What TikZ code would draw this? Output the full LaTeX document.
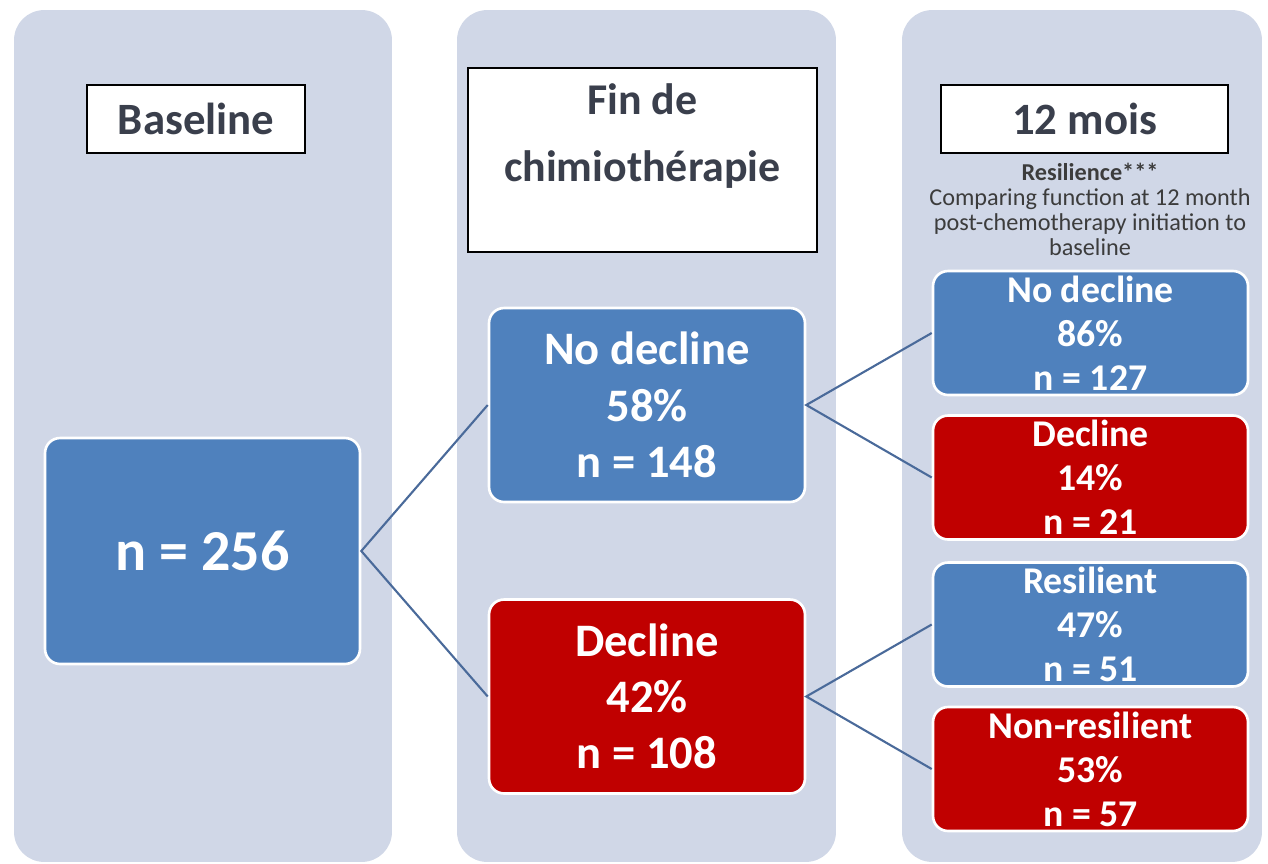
\documentclass[tikz,border=0pt]{standalone}
\usepackage{fontspec}
\setmainfont{Carlito}
\definecolor{panelc}{HTML}{D0D7E7}
\definecolor{boxblue}{HTML}{4F81BD}
\definecolor{boxred}{HTML}{C00000}
\definecolor{linkc}{HTML}{4A6A9A}
\definecolor{hdrtext}{HTML}{3A3F4C}
\definecolor{smalltext}{HTML}{3C3C3C}
\begin{document}
\begin{tikzpicture}[x=0.02cm,y=-0.02cm,
  panel/.style={fill=panelc, draw=none, rounded corners=0.6cm, inner sep=0pt},
  hdr/.style={draw=black, line width=0.8pt, fill=white, text=hdrtext, inner sep=0pt,
    font=\bfseries\fontsize{25.5}{29}\selectfont},
  colbox/.style={rounded corners=0.3cm, draw=white, line width=1.5pt, text=white,
    align=center, inner sep=0pt},
  bigbox/.style={colbox, minimum width=6.32cm, minimum height=3.88cm,
    font=\bfseries\fontsize{26.5}{32}\selectfont},
  smallbox/.style={colbox, minimum width=6.3cm, minimum height=2.48cm,
    font=\bfseries\fontsize{21.5}{25}\selectfont},
  bluef/.style={fill=boxblue},
  redf/.style={fill=boxred},
  link/.style={draw=linkc, line width=1.2pt}]
\useasboundingbox (0,0) rectangle (1268,863);

% panels
\node[panel, minimum width=7.56cm, minimum height=17.04cm] (p1) at (203,436) {};
\node[panel, minimum width=7.58cm, minimum height=17.04cm] (p2) at (646.5,436) {};
\node[panel, minimum width=7.2cm, minimum height=17.04cm] (p3) at (1082,436) {};

% headers
\node[hdr, minimum width=4.36cm, minimum height=1.36cm] (h1) at (196,119) {Baseline};
\node[hdr, minimum width=6.98cm, minimum height=3.68cm] (h2) at (642.5,160) {};
\node[text=hdrtext, align=center, font=\bfseries\fontsize{25}{38.5}\selectfont] (h2t) at (642.5,136) {Fin de\\chimiothérapie};
\node[hdr, minimum width=5.74cm, minimum height=1.36cm] (h3) at (1084.5,119) {12 mois};

\node[text=smalltext, align=center, font=\fontsize{13.8}{14.2}\selectfont] (res) at (1090,209)
  {\textbf{Resilience***}\\Comparing function at 12 month\\post-chemotherapy initiation to\\baseline};

% boxes
\node[colbox, bluef, minimum width=6.3cm, minimum height=4.52cm,
  font=\bfseries\fontsize{33}{38}\selectfont] (n256) at (202.5,551) {n = 256};

\node[bigbox, bluef] (nd) at (647,405) {No decline\\58\%\\n = 148};
\node[bigbox, redf] (dc) at (647,696.5) {Decline\\42\%\\n = 108};

\node[smallbox, bluef] (r1) at (1090.5,333) {No decline\\86\%\\n = 127};
\node[smallbox, redf] (r2) at (1090.5,477.5) {Decline\\14\%\\n = 21};
\node[smallbox, bluef] (r3) at (1090.5,624.5) {Resilient\\47\%\\n = 51};
\node[smallbox, redf] (r4) at (1090.5,769) {Non-resilient\\53\%\\n = 57};

% connectors
\draw[link] (nd.west) -- (n256.east) -- (dc.west);
\draw[link] (r1.west) -- (nd.east) -- (r2.west);
\draw[link] (r3.west) -- (dc.east) -- (r4.west);
\end{tikzpicture}
\end{document}
